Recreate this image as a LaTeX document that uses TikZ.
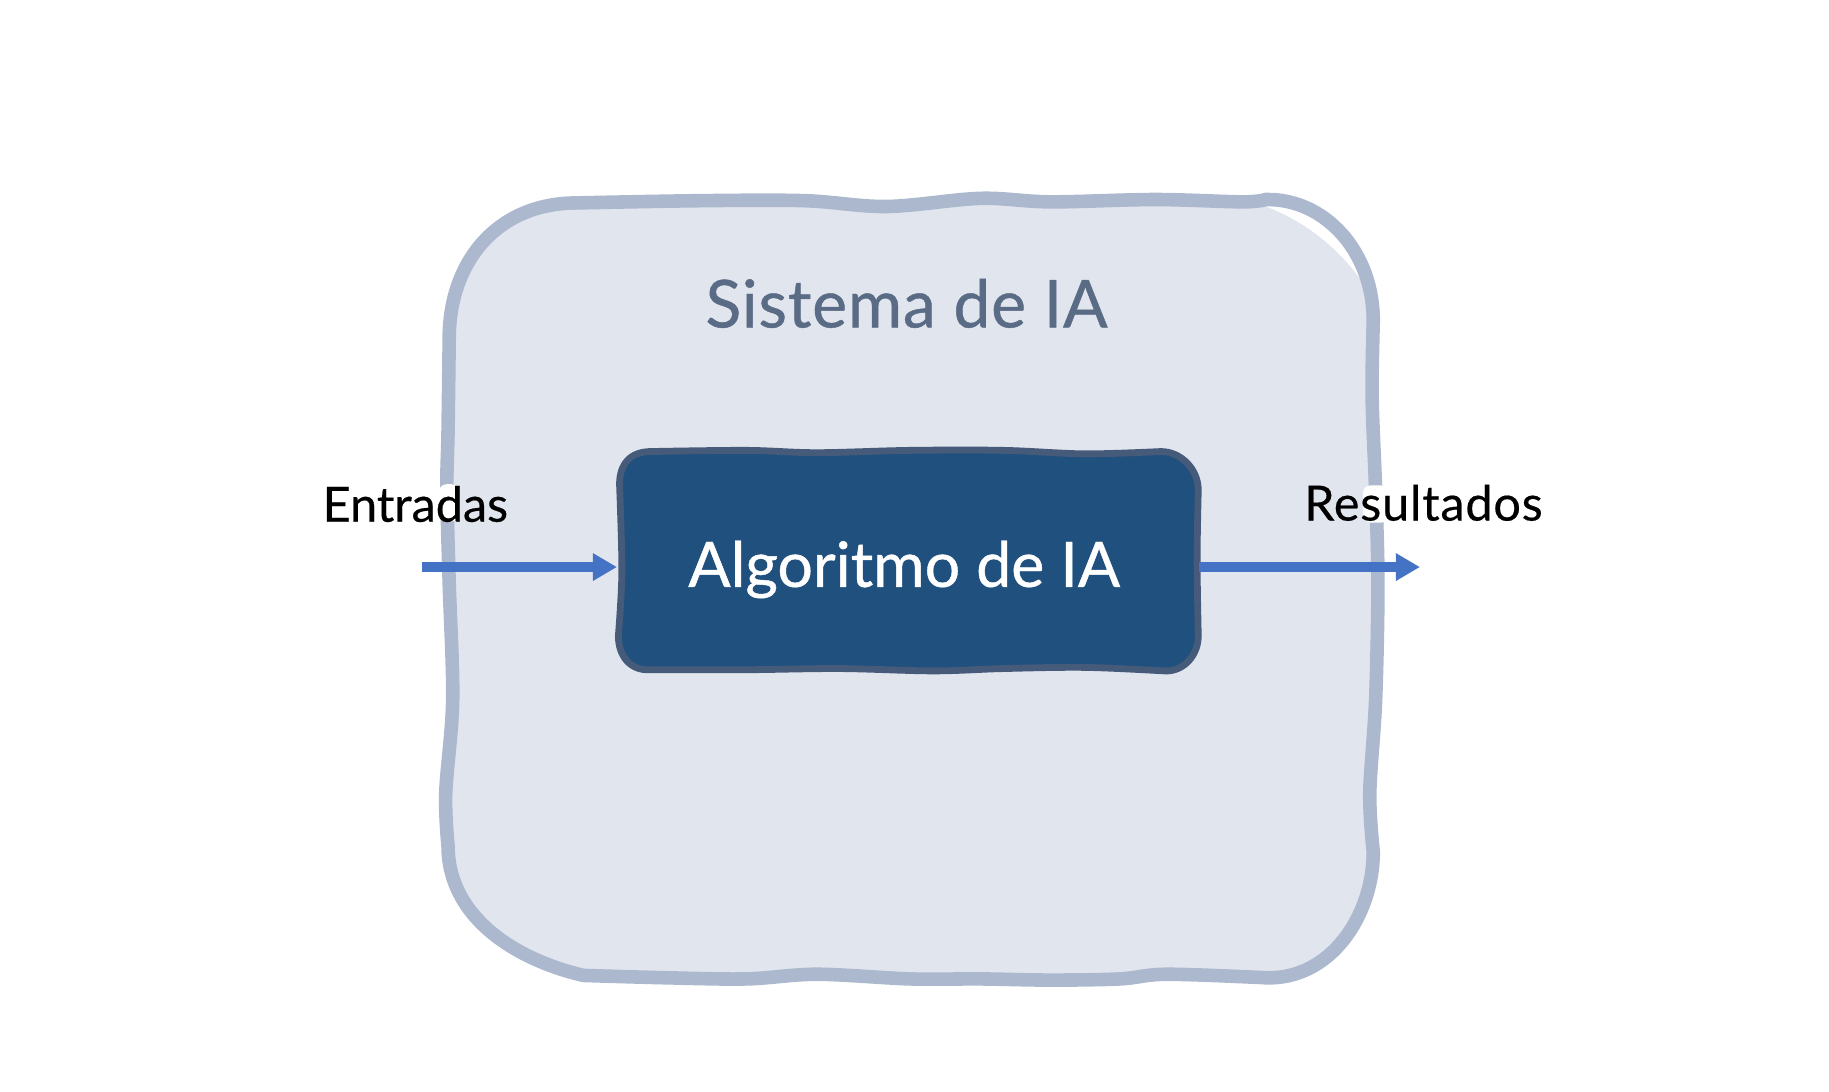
\documentclass[tikz,border=0pt]{standalone}
\usepackage{fontspec}
\setmainfont{Lato}
\usetikzlibrary{arrows.meta}
\definecolor{sysfill}{HTML}{E1E5EE}
\definecolor{sysline}{HTML}{ABB8CD}
\definecolor{algofill}{HTML}{20507D}
\definecolor{algoline}{HTML}{465A7A}
\definecolor{arrowblue}{HTML}{4472C4}
\definecolor{titlegrey}{HTML}{5A6B85}
\tikzset{
  sysshape/.style={fill=sysfill},
  sysborder/.style={draw=sysline,line width=6.8pt},
  algoshape/.style={fill=algofill,draw=algoline,line width=3.4pt},
  flow/.style={draw=arrowblue,line width=4.6pt,-{Triangle[length=12pt,width=13pt]}},
  caption/.style={font=\fontsize{24.3pt}{26pt}\selectfont\addfontfeatures{FakeBold=0.4},text=black,inner sep=0pt},
  longcaption/.style={font=\fontsize{24.3pt}{26pt}\selectfont\addfontfeatures{FakeBold=0.4,LetterSpace=1.6},text=black,inner sep=0pt},
  systitle/.style={font=\fontsize{33pt}{36pt}\selectfont\addfontfeatures{LetterSpace=1.2,FakeBold=0.7},text=titlegrey,inner sep=0pt},
  algotext/.style={text=white,font=\fontsize{31.3pt}{34pt}\selectfont\addfontfeatures{FakeBold=0.7},inner sep=0pt,minimum width=290.5pt,minimum height=110pt,align=center},
}
\newcommand{\syspath}{(385,290) .. controls (385,225) and (425,176) .. (490,174)
  -- plot[smooth,tension=0.55] coordinates {(490,174) (600,172) (690,172) (760,177) (840,170) (900,173) (990,171) (1065,173) (1085,171)}
  .. controls (1135,170) and (1177,215) .. (1177,275)
  -- plot[smooth,tension=0.55] coordinates {(1177,275) (1176,340) (1179,420) (1181,500) (1179,600) (1174,680) (1177,730)}
  .. controls (1177,785) and (1140,840) .. (1085,838)
  -- plot[smooth,tension=0.55] coordinates {(1085,838) (1000,835) (960,839) (900,840) (840,839) (780,839) (700,835) (640,839) (570,838) (500,836)}
  .. controls (440,822) and (384,785) .. (384,725)
  -- plot[smooth,tension=0.55] coordinates {(384,725) (382,680) (388,600) (385,500) (383,420) (384,370) (385,290)}
  -- cycle}
\newcommand{\algopath}{(531,415) .. controls (531,398) and (540,387) .. (558,387)
  -- plot[smooth,tension=0.55] coordinates {(558,387) (640,386) (700,388) (780,386) (860,386) (930,389) (995,387)}
  .. controls (1012,387) and (1027,402) .. (1027,420)
  -- plot[smooth,tension=0.55] coordinates {(1027,420) (1026,480) (1027,545)}
  .. controls (1027,562) and (1014,576) .. (998,575)
  -- plot[smooth,tension=0.55] coordinates {(998,575) (930,572) (860,573) (800,575) (720,573) (640,574) (557,574)}
  .. controls (540,575) and (530,562) .. (530,545)
  -- plot[smooth,tension=0.55] coordinates {(530,545) (533,490) (531,415)}
  -- cycle}
\begin{document}
\begin{tikzpicture}[x=0.5834pt,y=-0.5834pt]
\useasboundingbox (0,0) rectangle (1567.6,935.9);
\path[sysshape] \syspath;
\fill[white] (1085,177) .. controls (1120,190) and (1150,215) .. (1170,245) -- (1172,245) .. controls (1160,215) and (1130,178) .. (1085,172) -- cycle;
\draw[sysborder] \syspath;
\fill[white,rounded corners=4pt] (376,415) rectangle (394,447);
\fill[white,rounded corners=4pt] (1168,416) rectangle (1190,448);
\node[systitle] (title) at (777,260) {Sistema de IA};
\draw[algoshape] \algopath;
\node[algotext] (algo) at (775,486) {\raisebox{-9.9pt}[0pt][0pt]{Algoritmo de IA}};
\node[caption] (entradas) at (356,432) {Entradas};
\node[longcaption] (resultados) at (1220,431) {Resultados};
\coordinate (instart) at (362,486);
\coordinate (outend) at (1217,486);
\draw[flow,shorten >=-1.8pt] (instart) -- (algo.west);
\draw[flow,shorten <=1.8pt] (algo.east) -- (outend);
\end{tikzpicture}
\end{document}
